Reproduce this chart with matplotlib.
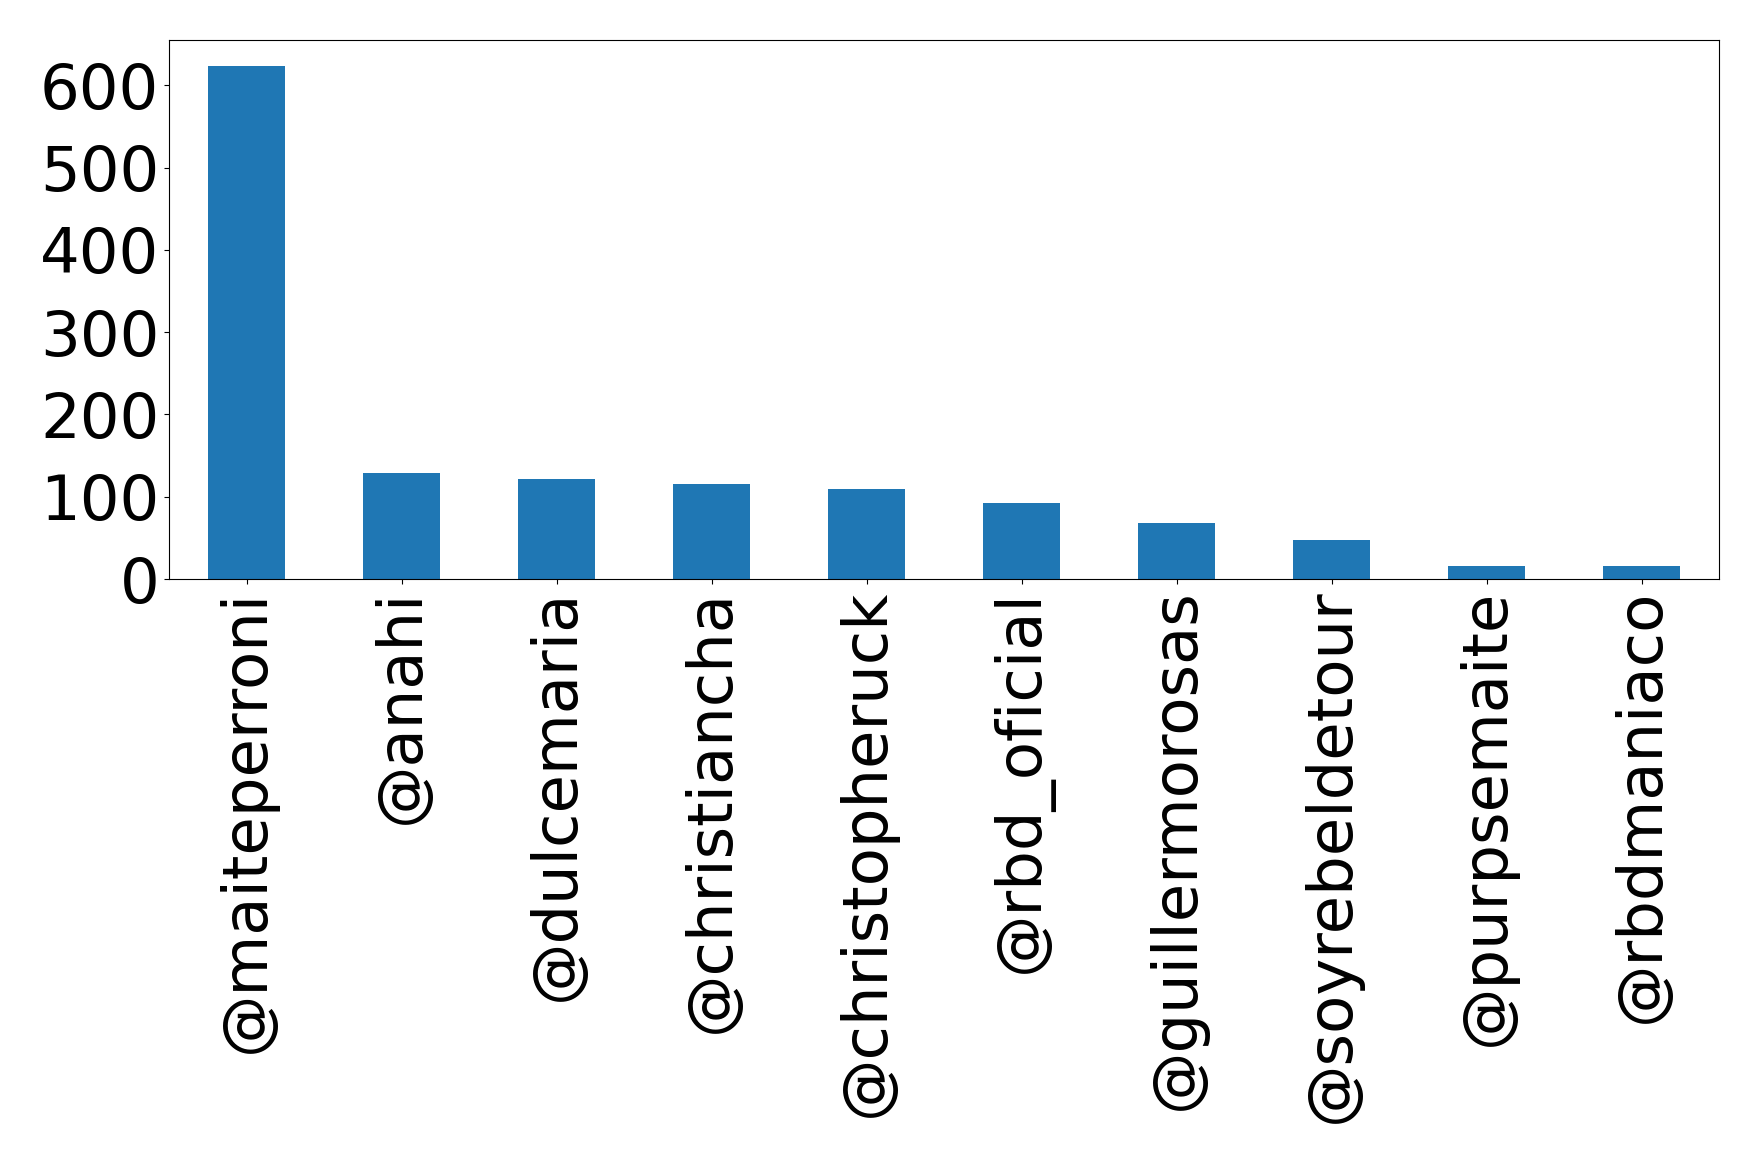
import matplotlib
matplotlib.use('Agg')
from matplotlib import pyplot as plt
import numpy as np

users = ['@maiteperroni', '@anahi', '@dulcemaria', '@christiancha', '@christopheruck',
         '@rbd_oficial', '@guillermorosas', '@soyrebeldetour', '@purpsemaite', '@rbdmaniaco']
counts = [624, 129, 121, 116, 110, 92, 68, 48, 16, 16]

fig = plt.figure(figsize=(17.59, 11.63), dpi=100)
ax = fig.add_axes([169 / 1759, 1 - 579 / 1163, (1719 - 169) / 1759, (579 - 40) / 1163])

x = np.arange(len(users))
ax.bar(x, counts, width=0.5, color='#1f77b4')
ax.set_xlim(-0.5, len(users) - 0.5)
ax.set_xticks(x)
ax.set_xticklabels(users, rotation=90, fontsize=45)
ax.set_yticks([0, 100, 200, 300, 400, 500, 600])
ax.tick_params(axis='y', labelsize=45)

fig.savefig('out.png', dpi=100)
